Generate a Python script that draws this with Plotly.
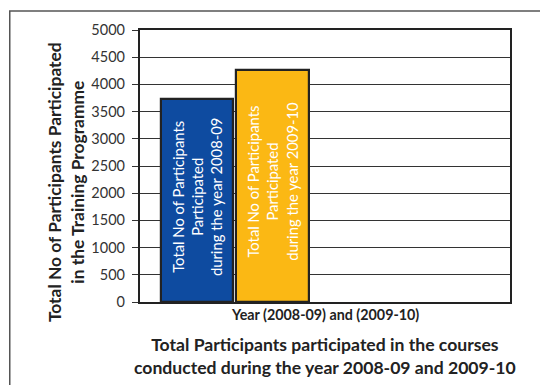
import plotly.graph_objects as go

# Data
years = ["2008-09", "2009-10"]
participants = [3730, 4260]
bar_colors = ["#0E4BA0", "#FBB814"]
bar_labels = [
    "Total No of Participants<br>Participated<br>during the year 2008-09",
    "Total No of Participants<br>Participated<br>during the year 2009-10",
]
y_ticks = [0, 500, 1000, 1500, 2000, 2500, 3000, 3500, 4000, 4500, 5000]

FONT = "Lato"
xpos = list(range(len(years)))

fig = go.Figure()
fig.add_trace(go.Bar(
    x=xpos, y=participants, width=0.955,
    marker=dict(color=bar_colors, line=dict(color="#222222", width=2.2)),
    hoverinfo="skip", showlegend=False,
))

label_bottoms = [440, 720]
for i, (lab, yb) in enumerate(zip(bar_labels, label_bottoms)):
    fig.add_annotation(
        x=xpos[i], y=yb, xref="x", yref="y", text=lab, textangle=-90,
        showarrow=False, xanchor="center", yanchor="bottom", align="center",
        font=dict(family=FONT, size=14.8, color="white"),
    )

# axis titles / captions
fig.add_annotation(
    x=0.5, y=-0.007, xref="paper", yref="paper", text="<b>Year (2008-09) and (2009-10)</b>",
    showarrow=False, xanchor="center", yanchor="top",
    font=dict(family=FONT, size=14.3, color="#222222"),
)
fig.add_annotation(
    x=0.5, y=-0.11, xref="paper", yref="paper",
    text="<b>Total Participants participated in the courses<br>conducted during the year 2008-09 and 2009-10</b>",
    showarrow=False, xanchor="center", yanchor="top", align="center",
    font=dict(family=FONT, size=17.6, color="#222222"),
)
fig.add_annotation(
    x=-0.2, y=0.441, xref="paper", yref="paper",
    text="<b>Total No of Participants Participated<br>in the Training Programme</b>",
    showarrow=False, xanchor="center", yanchor="middle", align="center", textangle=-90,
    font=dict(family=FONT, size=17.4, color="#222222"),
)

# outer frame
fig.add_shape(type="rect", xref="paper", yref="paper",
              x0=-0.352, x1=1.2, y0=-0.5, y1=1.07,
              line=dict(color="#555555", width=1.5), layer="below")

fig.update_layout(
    width=540, height=385,
    margin=dict(l=140, r=30, t=30, b=83),
    paper_bgcolor="white", plot_bgcolor="white",
    font=dict(family=FONT, color="#333333"),
    bargap=0,
)
fig.update_xaxes(range=[-0.755, 4.146], showticklabels=False, showgrid=False,
                 zeroline=False, showline=True, mirror=True,
                 linecolor="#222222", linewidth=2.2, ticks="")
fig.update_yaxes(range=[0, 5000], tickvals=y_ticks, ticktext=[str(v) for v in y_ticks],
                 showgrid=True, gridcolor="#333333", gridwidth=1.3,
                 zeroline=False, showline=True, mirror=True,
                 linecolor="#222222", linewidth=2.2,
                 ticks="outside", ticklen=6, tickcolor="#333333", tickwidth=1.3,
                 ticklabelstandoff=4,
                 tickfont=dict(family=FONT, size=14.5, color="#333333"))

fig.write_html("out.html")
